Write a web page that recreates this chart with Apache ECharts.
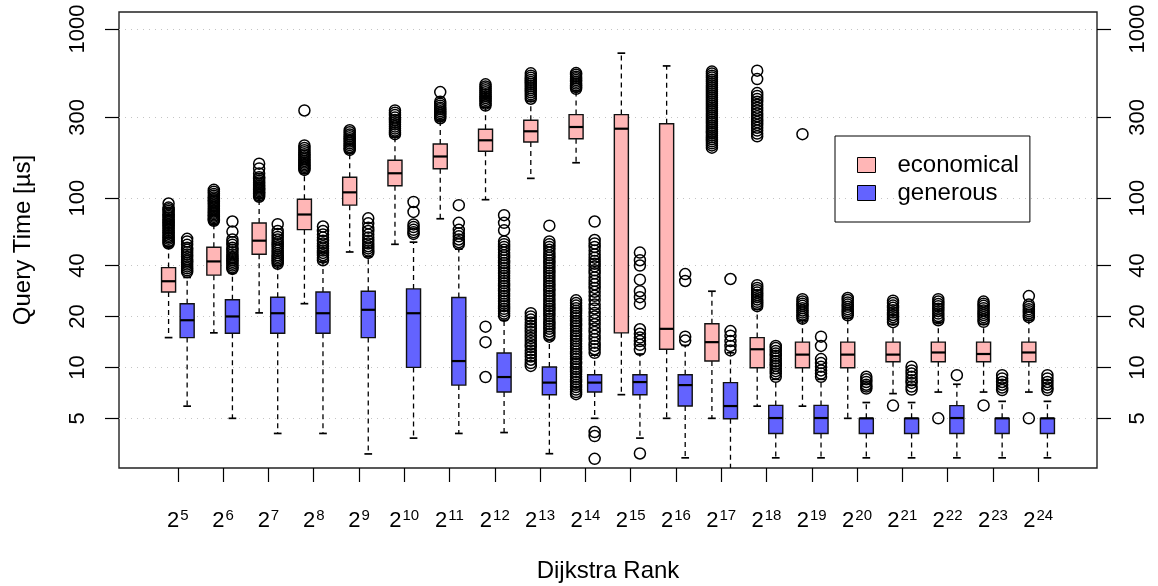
<!DOCTYPE html>
<html><head><meta charset="utf-8">
<script src="https://cdn.jsdelivr.net/npm/echarts@6/dist/echarts.min.js"></script>
<style>html,body{margin:0;padding:0;background:#fff}#c{width:1158px;height:586px}</style>
</head><body><div id="c"></div>
<script>
// Dijkstra rank exponents (x categories: 2^k)
const exponents = [5,6,7,8,9,10,11,12,13,14,15,16,17,18,19,20,21,22,23,24];
const yTicks = [5, 10, 20, 40, 100, 300, 1000];

// economical: whisker low, Q1, median, Q3, whisker high  [µs]
const ecoLow  = [15.0, 16.0, 21.0, 23.8, 48.1, 53.4, 75.6, 98, 131, 162, 6.9, 5.0, 5.0, 5.9, 5.9, 5.0, 7.0, 7.15, 7.15, 7.15];
const ecoQ1   = [27.9, 35.1, 46.6, 65.2, 91.0, 118.5, 149.4, 189.3, 214.9, 224.8, 16.0, 12.8, 10.9, 9.95, 9.95, 9.95, 10.8, 10.8, 10.8, 10.8];
const ecoMed  = [32.3, 42.3, 56.1, 80.1, 108.3, 140.4, 176.4, 219.9, 248.6, 263.5, 257.5, 16.9, 14.1, 12.8, 11.9, 11.9, 11.9, 12.25, 12.0, 12.25];
const ecoQ3   = [38.9, 51.3, 71.3, 98.5, 132.9, 167.5, 209.1, 255.4, 288.7, 312, 312, 275.6, 18.1, 15.0, 14.1, 14.1, 14.1, 14.1, 14.1, 14.1];
const ecoHigh = [52, 70, 100, 140, 185, 230, 290, 345, 375, 430, 720, 605, 28.2, 22, 19, 19.5, 18, 18.5, 18, 19];
const ecoOut = [
  [93, 88, 86, 84, 82, 80, 78.5, 77, 75, 73.5, 72, 70.5, 69, 67.5, 66, 64.5, 63, 61.5, 60, 58.8, 57.5, 56, 55, 54],
  [112, 109, 106, 103.5, 101, 99, 97, 95, 93, 91, 89, 87, 85, 83.5, 82, 80.5, 79, 77.5, 76, 74.5, 73.5],
  [160, 150, 140, 133, 130, 127, 124, 121, 118.5, 116, 114, 112, 110, 108, 106, 104, 102],
  [330, 205, 198, 192, 187, 182, 178, 174, 170, 166, 162.5, 159, 156, 153, 150, 147],
  [252, 245, 238, 232, 226, 221, 216, 211, 206, 201, 197, 193],
  [330, 320, 310, 300, 290, 281, 273, 265, 258, 251, 245, 239],
  [424, 372, 362, 352, 343, 335, 327, 319, 311, 304, 297],
  [471, 458, 446, 434, 423, 412, 401, 391, 381, 371, 362, 353, 17.4, 14.1, 8.77],
  [547, 530, 515, 500, 486, 473, 460, 447, 435, 423, 411, 399, 387, 20.9, 20, 19.2, 18.4, 17.6, 16.9, 16.2, 15.5, 14.9, 14.3, 13.7, 13.2, 12.6, 12.1, 11.6, 11.1, 10.6, 10.2],
  [549, 536, 523, 511, 499, 487, 476, 465, 454, 443, 24.9, 24, 23.2, 22.4, 21.6, 20.9, 20.2, 19.5, 18.8, 18.2, 17.6, 17, 16.4, 15.8, 15.3, 14.8, 14.3, 13.8, 13.3, 12.9, 12.4, 12, 11.6, 11.2, 10.8, 10.5, 10.1, 9.75, 9.4, 9.1, 8.8, 8.5, 8.2, 7.9, 7.65, 7.4, 7.15, 6.95],
  [],
  [],
  [560, 545, 530, 516, 502, 489, 476, 463, 451, 439, 427, 416, 405, 394, 383, 373, 363, 353, 344, 335, 326, 317, 308, 300, 292, 284, 277, 269, 262, 255, 248, 242, 235, 229, 223, 217, 211, 205, 199],
  [567, 506, 418, 402, 386, 371, 357, 343, 330, 317, 305, 293, 282, 271, 261, 251, 241, 232, 30.6, 29.5, 28.6, 27.7, 26.8, 26, 25.2, 24.4, 23.7, 23.0],
  [239, 25.3, 24.5, 23.8, 23.1, 22.4, 21.7, 21.1, 20.5, 19.9, 19.4],
  [25.7, 25, 24.2, 23.5, 22.8, 22.1, 21.5, 20.9, 20.3],
  [24.8, 24, 23.2, 22.5, 21.8, 21.1, 20.4, 19.8, 19.1, 18.5, 5.95],
  [25.3, 24.5, 23.7, 23, 22.2, 21.5, 20.8, 20.1, 19.5, 19.0, 5.0],
  [24.5, 23.8, 23.1, 22.4, 21.7, 21, 20.4, 19.8, 19.2, 18.6, 5.96],
  [26.4, 23.5, 22.8, 22.1, 21.5, 20.9, 20.3, 19.8, 5.0]
];

// generous
const genLow  = [5.9, 5.0, 4.07, 4.07, 3.08, 3.82, 4.07, 4.12, 3.09, 5.0, 3.82, 2.92, 2.3, 2.92, 2.92, 2.92, 2.92, 2.92, 2.92, 2.92];
const genQ1   = [15.0, 15.9, 15.9, 15.9, 15.0, 10.0, 7.86, 7.15, 6.89, 7.15, 6.89, 5.91, 4.97, 4.07, 4.07, 4.07, 4.07, 4.07, 4.07, 4.07];
const genMed  = [19.0, 20.0, 20.9, 20.9, 21.9, 20.9, 10.9, 8.77, 8.13, 8.13, 8.19, 7.86, 5.91, 5.02, 5.02, 5.0, 5.0, 5.02, 5.0, 5.0];
const genQ3   = [23.8, 25.1, 26.0, 27.9, 28.2, 29.1, 25.9, 12.16, 10.05, 9.05, 9.05, 9.05, 8.13, 5.96, 5.96, 5.0, 5.0, 5.94, 5.0, 5.0];
const genHigh = [34, 36, 40, 42, 45, 55, 50, 19, 14.5, 11.8, 12, 13.5, 12.2, 8.5, 8.5, 6.2, 6.2, 7.95, 6.3, 6.3];
const genOut = [
  [57.5, 55.5, 53, 51, 49.5, 48, 46.5, 45, 43.5, 42.5, 41.5, 40.5, 39.5, 38.5, 37.5, 36.6],
  [72.8, 63.5, 57, 55, 53, 51, 49.5, 48, 46.5, 45, 44, 43, 42, 41, 40, 39, 38.2],
  [70.2, 64, 61.5, 59, 57, 55, 53.5, 52, 50.5, 49, 47.5, 46, 45, 44, 43, 42, 41],
  [68, 64, 61, 58.5, 56, 54, 52, 50.5, 49, 47.5, 46, 44.5, 43],
  [76, 71, 67, 64, 61, 58.5, 56, 54, 52, 50.5, 49, 47.5],
  [95, 83, 70, 67.5, 65, 63, 61.5],
  [91, 71.5, 65, 62, 59.5, 57, 55, 53.5],
  [79.4, 71.5, 64.6, 55.5, 53.5, 51.5, 49.5, 47.7, 46, 44.4, 42.9, 41.4, 40, 38.6, 37.3, 36, 34.8, 33.6, 32.5, 31.4, 30.3, 29.3, 28.3, 27.3, 26.4, 25.5, 24.6, 23.8, 23, 22.2, 21.5, 20.8, 20.2],
  [68.8, 55.5, 53.5, 51.5, 49.5, 47.7, 46, 44.4, 42.9, 41.4, 40, 38.6, 37.3, 36, 34.8, 33.6, 32.5, 31.4, 30.3, 29.3, 28.3, 27.3, 26.4, 25.5, 24.6, 23.8, 23, 22.2, 21.5, 20.8, 20.1, 19.4, 18.7, 18.1, 17.5, 16.9, 16.3, 15.7, 15.2],
  [72.8, 56.6, 54, 51.5, 49, 46.5, 44.5, 42.5, 41, 39.5, 37.5, 36, 34, 32.5, 31, 29.5, 28, 26.5, 25, 23.5, 22.3, 21, 20, 19, 18, 17, 16.2, 15.4, 14.7, 14, 13.4, 12.8, 12.2, 4.15, 3.93, 2.88],
  [47.7, 43, 40, 33, 28.2, 26, 23.8, 16.8, 15.8, 15, 14.3, 13.6, 12.7, 3.1],
  [35.6, 32.4, 15.2, 14.4],
  [33.3, 16.4, 15.4, 14.3, 13.4, 12.6],
  [13.4, 13, 12.5, 12.1, 11.7, 11.3, 10.9, 10.5, 10.2, 9.85, 9.5, 9.2, 8.8],
  [15.2, 13.4, 11.2, 10.6, 10.1, 9.6, 9.2, 8.8],
  [8.8, 8.5, 8.2, 7.9, 7.7, 7.5],
  [10.1, 9.6, 9.2, 8.8, 8.4, 8.1, 7.7, 7.4],
  [9.0],
  [9.0, 8.6, 8.2, 7.9, 7.6, 7.35],
  [9.0, 8.6, 8.2, 7.9, 7.6, 7.35]
];

const ECO_COLOR = '#ffb6b6';
const GEN_COLOR = '#6363ff';
const FONT = '"Liberation Sans", Arial, Helvetica, sans-serif';
const OFF = 0.205;      // box offset from tick, in category units
const HALF = 0.155;     // half box width, category units
const CAP = 0.085;      // half staple width

const L = Math.log10;
function boxRows(lo, q1, md, q3, hi) {
  return exponents.map((e, i) => [i, L(lo[i]), L(q1[i]), L(md[i]), L(q3[i]), L(hi[i])]);
}
function outRows(outs, off) {
  const rows = [];
  outs.forEach((arr, i) => arr.forEach(v => rows.push([i + off, L(v)])));
  return rows;
}
function makeRender(off, fill) {
  return function (params, api) {
    const i = api.value(0);
    const unit = api.size([1, 0])[0];
    const cx = api.coord([i, 0])[0] + off * unit;
    const hw = HALF * unit, cw = CAP * unit;
    const y = k => api.coord([i, api.value(k)])[1];
    const yl = y(1), y1 = y(2), ym = y(3), y3 = y(4), yh = y(5);
    const dash = { stroke: '#000', lineWidth: 1.3, lineDash: [5, 4] };
    const solid = { stroke: '#000', lineWidth: 1.7 };
    return {
      type: 'group',
      children: [
        { type: 'line', shape: { x1: cx, y1: y3, x2: cx, y2: yh }, style: dash },
        { type: 'line', shape: { x1: cx, y1: y1, x2: cx, y2: yl }, style: dash },
        { type: 'line', shape: { x1: cx - cw, y1: yh, x2: cx + cw, y2: yh }, style: solid },
        { type: 'line', shape: { x1: cx - cw, y1: yl, x2: cx + cw, y2: yl }, style: solid },
        { type: 'rect', shape: { x: cx - hw, y: y3, width: 2 * hw, height: y1 - y3 },
          style: { fill: fill, stroke: '#111', lineWidth: 1.4 } },
        { type: 'line', shape: { x1: cx - hw, y1: ym, x2: cx + hw, y2: ym }, style: { stroke: '#000', lineWidth: 2.2 } }
      ]
    };
  };
}

const yMin = 0.4054, yMax = 3.1005;
const yTickVals = yTicks.map(L);
function yAxisCfg(pos, withName) {
  return {
    type: 'value', position: pos, min: yMin, max: yMax,
    name: withName ? 'Query Time [µs]' : '',
    nameLocation: 'middle', nameGap: 84,
    nameTextStyle: { fontSize: 24, fontFamily: FONT, color: '#000' },
    axisLine: { show: false, onZero: false },
    axisTick: { show: true, length: 14, customValues: yTickVals, lineStyle: { color: '#000', width: 1.2 } },
    axisLabel: { show: true, customValues: yTickVals, rotate: 90, margin: 30,
      formatter: v => String(Math.round(Math.pow(10, v))),
      fontSize: 22, fontFamily: FONT, color: '#000' },
    splitLine: { show: withName, lineStyle: { color: '#c4c4c4', type: [1, 5], width: 1 } }
  };
}
const xTickVals = exponents.map((e, i) => i);

const chart = echarts.init(document.getElementById('c'), null, { renderer: 'canvas' });
chart.setOption({
  animation: false,
  backgroundColor: '#fff',
  grid: { left: 119, right: 61, top: 12, bottom: 118, show: true, borderColor: '#222', borderWidth: 1.4,
    backgroundColor: 'transparent', containLabel: false, outerBoundsMode: 'none' },
  xAxis: {
    type: 'value', min: -1.3, max: 20.3,
    name: 'Dijkstra Rank', nameLocation: 'middle', nameGap: 91,
    nameTextStyle: { fontSize: 24, fontFamily: FONT, color: '#000' },
    axisLine: { show: false, onZero: false },
    splitLine: { show: false },
    axisTick: { show: true, length: 14, customValues: xTickVals, lineStyle: { color: '#000', width: 1.2 } },
    axisLabel: {
      customValues: xTickVals, margin: 40,
      formatter: v => '{b|2}{s|' + exponents[Math.round(v)] + '}',
      rich: {
        b: { fontSize: 22, fontFamily: FONT, color: '#000', verticalAlign: 'bottom' },
        s: { fontSize: 15, fontFamily: FONT, color: '#000', verticalAlign: 'bottom', padding: [0, 0, 9, 1] }
      }
    }
  },
  yAxis: [yAxisCfg('left', true), yAxisCfg('right', false)],
  legend: {
    orient: 'vertical', left: 835, top: 136,
    padding: [17, 11, 17, 22],
    borderColor: '#000', borderWidth: 1,
    itemWidth: 18, itemHeight: 15, itemGap: 4,
    selectedMode: false,
    textStyle: { fontSize: 24, fontFamily: FONT, color: '#000', lineHeight: 24, padding: [0, 0, 0, 17] },
    data: [
      { name: 'economical', icon: 'rect', itemStyle: { color: ECO_COLOR, borderColor: '#000', borderWidth: 1 } },
      { name: 'generous', icon: 'rect', itemStyle: { color: GEN_COLOR, borderColor: '#000', borderWidth: 1 } }
    ]
  },
  series: [
    { name: 'economical', type: 'custom', clip: true, z: 2, itemStyle: { color: ECO_COLOR },
      renderItem: makeRender(-OFF, ECO_COLOR), data: boxRows(ecoLow, ecoQ1, ecoMed, ecoQ3, ecoHigh), silent: true },
    { name: 'generous', type: 'custom', clip: true, z: 2, itemStyle: { color: GEN_COLOR },
      renderItem: makeRender(OFF, GEN_COLOR), data: boxRows(genLow, genQ1, genMed, genQ3, genHigh), silent: true },
    { name: 'economical outliers', type: 'scatter', z: 3, clip: true, silent: true, symbol: 'circle', symbolSize: 11,
      itemStyle: { color: 'rgba(0,0,0,0)', borderColor: '#000', borderWidth: 1.5, opacity: 1 },
      data: outRows(ecoOut, -OFF) },
    { name: 'generous outliers', type: 'scatter', z: 3, clip: true, silent: true, symbol: 'circle', symbolSize: 11,
      itemStyle: { color: 'rgba(0,0,0,0)', borderColor: '#000', borderWidth: 1.5, opacity: 1 },
      data: outRows(genOut, OFF) }
  ]
});
</script>
</body></html>
